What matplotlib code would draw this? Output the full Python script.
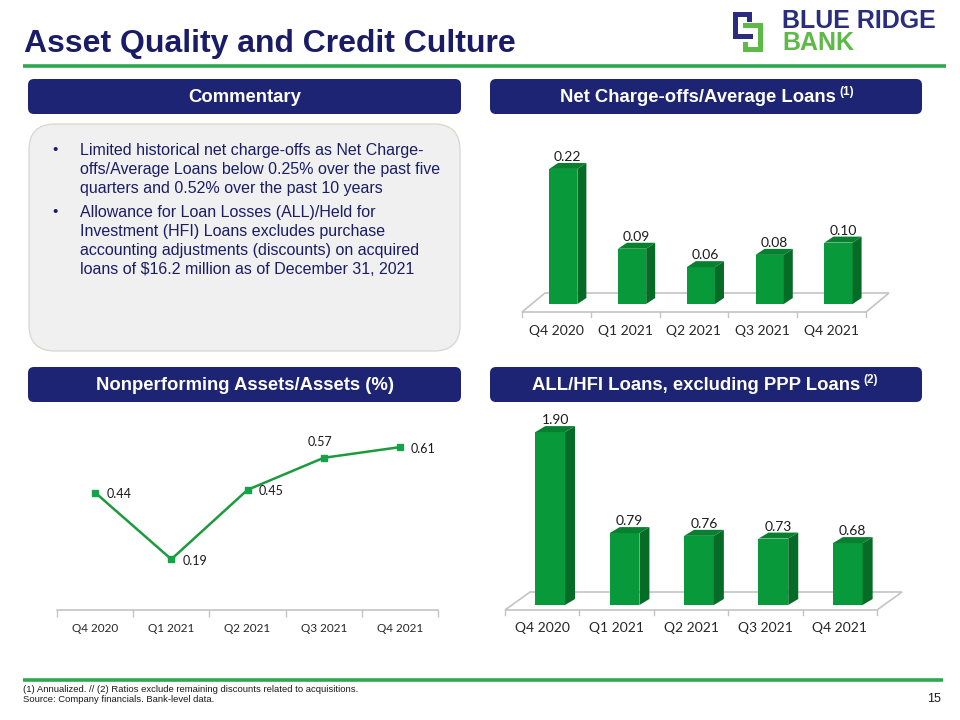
import numpy as np
import matplotlib
matplotlib.use("Agg")
import matplotlib.pyplot as plt
from matplotlib.patches import FancyBboxPatch, Rectangle, Polygon
from matplotlib import font_manager

# data
quarters = ["Q4 2020", "Q1 2021", "Q2 2021", "Q3 2021", "Q4 2021"]
nco_avg_loans = [0.22, 0.09, 0.06, 0.08, 0.10]
npa_assets = [0.44, 0.19, 0.45, 0.57, 0.61]
all_hfi_loans = [1.90, 0.79, 0.76, 0.73, 0.68]

bullet_1 = ["Limited historical net charge-offs as Net Charge-",
            "offs/Average Loans below 0.25% over the past five",
            "quarters and 0.52% over the past 10 years"]
bullet_2 = ["Allowance for Loan Losses (ALL)/Held for",
            "Investment (HFI) Loans excludes purchase",
            "accounting adjustments (discounts) on acquired",
            "loans of $16.2 million as of December 31, 2021"]

NAVY = "#1c2473"
TEXT_NAVY = "#1a1d66"
GREEN_LINE = "#2ea84f"
FRONT = "#07993a"
SIDE = "#056b27"
TOP = "#08802f"
FLOOR = "#c4c4c4"

names = {f.name for f in font_manager.fontManager.ttflist}
NARROW = "Liberation Sans Narrow" if "Liberation Sans Narrow" in names else "Liberation Sans"
ARIAL = "Liberation Sans"
CHART = "Lato"

W, H = 960, 720
fig = plt.figure(figsize=(9.6, 7.2), dpi=100)

# background axes in pixel units (y down) for the slide furniture
bg = fig.add_axes([0, 0, 1, 1], zorder=0)
bg.set_xlim(0, W)
bg.set_ylim(H, 0)
bg.axis("off")


def px_axes(x0, x1, y_base, y_top):
    return fig.add_axes([x0 / W, 1 - y_base / H, (x1 - x0) / W, (y_base - y_top) / H], zorder=2)


def header(x0, x1, y0, y1, label, sup=None, split=None):
    bg.add_patch(FancyBboxPatch((x0, y0), x1 - x0, y1 - y0,
                                boxstyle="round,pad=0,rounding_size=6",
                                fc=NAVY, ec="none"))
    yc = (y0 + y1) / 2 + 1
    if sup is None:
        bg.text((x0 + x1) / 2, yc, label, color="white", fontsize=13.3,
                fontweight="bold", family=ARIAL, ha="center", va="center")
    else:
        bg.text(split, yc, label, color="white", fontsize=13.3,
                fontweight="bold", family=ARIAL, ha="right", va="center")
        bg.text(split + 3, yc - 5, sup, color="white", fontsize=8.5,
                fontweight="bold", family=ARIAL, ha="left", va="center")


# title and logo
bg.text(24, 44, "Asset Quality and Credit Culture", color=TEXT_NAVY, fontsize=23,
        fontweight="bold", family=NARROW, ha="left", va="center")
bg.plot([23, 946], [66, 66], color=GREEN_LINE, lw=2.6, solid_capstyle="butt")

logo_navy = "#2a2c7d"
logo_green = "#5dba47"
for (x, y, w, h) in [(733, 12, 19, 5), (733, 12, 5, 27), (733, 34, 20, 5), (747, 12, 5, 10)]:
    bg.add_patch(Rectangle((x, y), w, h, fc=logo_navy, ec="none"))
for (x, y, w, h) in [(743, 23, 20, 5), (758, 23, 5, 29), (743, 47, 20, 5), (743, 42, 5, 10)]:
    bg.add_patch(Rectangle((x, y), w, h, fc=logo_green, ec="none"))
bg.text(782, 21, "BLUE RIDGE", color=logo_navy, fontsize=18, fontweight="bold",
        family=ARIAL, ha="left", va="center")
bg.text(782, 43, "BANK", color=logo_green, fontsize=18, fontweight="bold",
        family=ARIAL, ha="left", va="center")

# section headers
header(28, 461, 79, 114, "Commentary")
header(490, 922, 79, 114, "Net Charge-offs/Average Loans", "(1)", split=836)
header(28, 461, 367, 402, "Nonperforming Assets/Assets (%)")
header(490, 922, 367, 402, "ALL/HFI Loans, excluding PPP Loans", "(2)", split=860)

# commentary panel
bg.add_patch(FancyBboxPatch((29, 124), 431, 227, boxstyle="round,pad=0,rounding_size=26",
                            fc="#f0f0f0", ec="#d9d9d4", lw=1))
y = 150
for block in (bullet_1, bullet_2):
    bg.text(52, y, "\u2022", color=TEXT_NAVY, fontsize=11, family=ARIAL, ha="left", va="center")
    for line in block:
        bg.text(80, y, line, color=TEXT_NAVY, fontsize=11.5, family=ARIAL, ha="left", va="center")
        y += 19.2
    y += 4.5


def bar_chart(values, x0, x1, y_base, ppu, ymax, floor_front, floor_back, back_shift,
              offset, width, dx_px, dy_px, label_y, tick_size, value_size):
    ax = px_axes(x0, x1, y_base, y_base - ymax * ppu)
    ax.set_xlim(-0.5, len(values) - 0.5)
    ax.set_ylim(0, ymax)
    ax.patch.set_alpha(0)
    for s in ax.spines.values():
        s.set_visible(False)
    ax.set_yticks([])
    ax.set_xticks(range(len(values)))
    ax.set_xticklabels(quarters, family=CHART, fontsize=tick_size, color="#262626")
    ax.tick_params(axis="x", length=0, pad=label_y - y_base - 11)

    xpu = (x1 - x0) / len(values)
    dx = dx_px / xpu
    dy = dy_px / ppu
    xs = np.arange(len(values)) + offset
    ax.bar(xs, values, width, color=FRONT, zorder=3)
    for xc, v in zip(xs, values):
        xl, xr = xc - width / 2, xc + width / 2
        ax.add_patch(Polygon([(xr, 0), (xr, v), (xr + dx, v + dy), (xr + dx, dy)],
                             closed=True, fc=SIDE, ec="none", zorder=3))
        ax.add_patch(Polygon([(xl, v), (xr, v), (xr + dx, v + dy), (xl + dx, v + dy)],
                             closed=True, fc=TOP, ec="none", zorder=3))
        ax.text(xc + dx / 2, v + dy, f"{v:.2f}", family=CHART, fontsize=value_size,
                color="#1a1a1a", ha="center", va="bottom", zorder=4)

    # floor of the 3-D plot
    bx0, bx1 = x0 + back_shift, x1 + back_shift
    bg.add_patch(Polygon([(x0, floor_front), (x1, floor_front), (bx1, floor_back), (bx0, floor_back)],
                         closed=True, fc="white", ec=FLOOR, lw=1.2, zorder=1))
    for k in range(len(values) + 1):
        xt = x0 + k * xpu
        bg.plot([xt, xt], [floor_front, floor_front + 5], color=FLOOR, lw=1, zorder=1)
    return ax


bar_chart(nco_avg_loans, 522, 866, 304, 614, 0.27, 312, 293, 23,
          0.10, 0.41, 9, 6, 330, 10, 10)
bar_chart(all_hfi_loans, 505, 877, 605, 91, 2.1, 610, 592, 25,
          0.107, 0.40, 10, 6, 628, 10, 10)

# nonperforming assets line chart
ax = px_axes(57, 438, 610, 610 - 0.72 * 267)
ax.set_xlim(-0.5, 4.5)
ax.set_ylim(0, 0.72)
ax.patch.set_alpha(0)
for side in ("left", "right", "top"):
    ax.spines[side].set_visible(False)
ax.spines["bottom"].set_color(FLOOR)
ax.spines["bottom"].set_linewidth(1.2)
ax.set_yticks([])
ax.set_xticks(range(5))
ax.set_xticklabels(quarters, family=CHART, fontsize=8.5, color="#262626")
ax.set_xticks(np.arange(-0.5, 5, 1), minor=True)
ax.tick_params(axis="x", which="major", length=0, pad=9)
ax.tick_params(axis="x", which="minor", length=5, color=FLOOR, width=1)
xs = np.arange(len(npa_assets))
ax.plot(xs, npa_assets, color="#1c9a3e", lw=1.8, marker="s", markersize=5,
        markerfacecolor="#13a348", markeredgecolor="#13a348", zorder=3)
for i, v in enumerate(npa_assets):
    if i == 3:
        ax.annotate(f"{v:.2f}", (i, v), xytext=(-3, 7), textcoords="offset points",
                    ha="center", va="bottom", family=CHART, fontsize=9, color="#1a1a1a")
    else:
        ax.annotate(f"{v:.2f}", (i, v), xytext=(8, -1), textcoords="offset points",
                    ha="left", va="center", family=CHART, fontsize=9, color="#1a1a1a")

# footer
bg.plot([23, 943], [680, 680], color=GREEN_LINE, lw=2.6, solid_capstyle="butt")
bg.text(23, 689, "(1) Annualized. // (2) Ratios exclude remaining discounts related to acquisitions.",
        family=NARROW, fontsize=6.8, color="#1a1a1a", ha="left", va="center")
bg.text(23, 699, "Source: Company financials. Bank-level data.",
        family=NARROW, fontsize=6.8, color="#1a1a1a", ha="left", va="center")
bg.text(941, 699, "15", family=NARROW, fontsize=9, color="#1a1a1a", ha="right", va="center")

fig.savefig("out.png", dpi=100)
